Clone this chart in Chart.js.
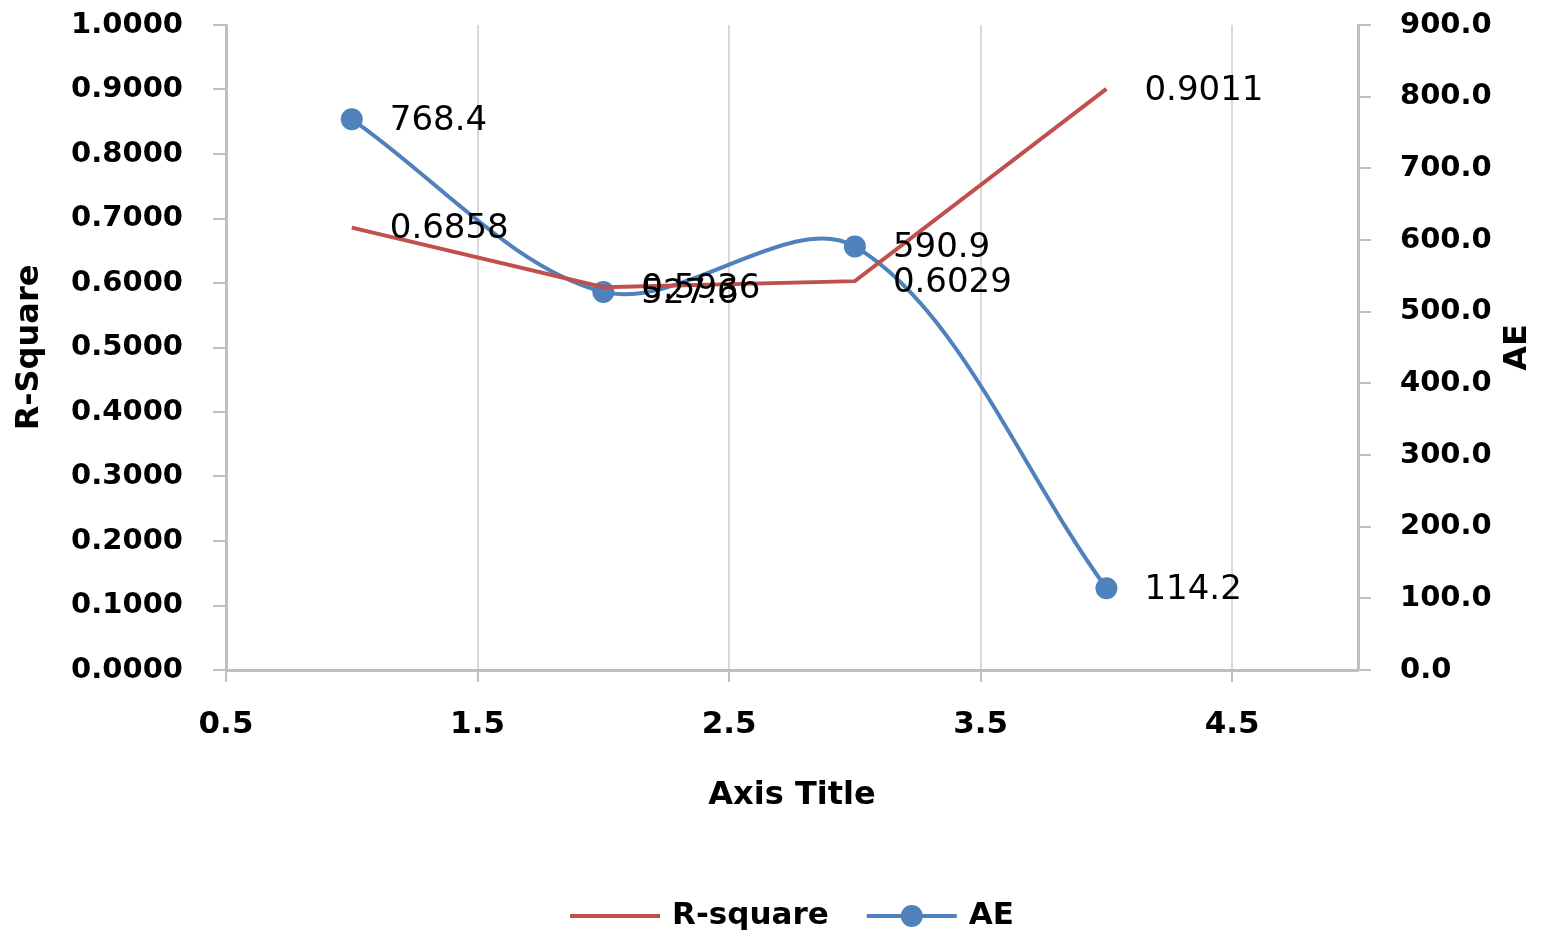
<!DOCTYPE html>
<html>
<head>
<meta charset="utf-8">
<script src="https://cdn.jsdelivr.net/npm/chart.js@4.4.1/dist/chart.umd.min.js"></script>
<style>
  html, body { margin: 0; padding: 0; background: #fff; }
  canvas { display: block; }
</style>
</head>
<body>
<canvas id="chart" width="1559" height="943"></canvas>
<script>
// values
const xValues = [1, 2, 3, 4];
const rSquare = [0.6858, 0.5936, 0.6029, 0.9011];
const aeValues = [768.4, 527.6, 590.9, 114.2];
const xTicks = [0.5, 1.5, 2.5, 3.5, 4.5];
const rLabel = 'R-square';
const aeLabel = 'AE';

const RED = '#C0504D';
const BLUE = '#4F81BD';
const AXIS = '#bfbfbf';
const FONT = '"DejaVu Sans", Verdana, sans-serif';

const toPoints = (ys) => xValues.map((x, i) => ({ x: x, y: ys[i] }));

// value labels right of every point
const valueLabels = {
  id: 'valueLabels',
  afterDatasetsDraw(chart) {
    const ctx = chart.ctx;
    ctx.save();
    ctx.font = 'normal 34px ' + FONT;
    ctx.fillStyle = '#000';
    ctx.textAlign = 'left';
    ctx.textBaseline = 'middle';
    chart.data.datasets.forEach((ds, di) => {
      const meta = chart.getDatasetMeta(di);
      meta.data.forEach((pt, i) => {
        const v = ds.data[i].y;
        const txt = di === 0 ? v.toFixed(4) : v.toFixed(1);
        ctx.fillText(txt, pt.x + 38, pt.y + 2);
      });
    });
    ctx.restore();
  }
};

// right axis title (reads bottom to top) and legend
const extras = {
  id: 'extras',
  afterDraw(chart) {
    const ctx = chart.ctx;
    const area = chart.chartArea;
    ctx.save();
    ctx.fillStyle = '#000';
    ctx.font = 'bold 32px ' + FONT;
    ctx.textAlign = 'center';
    ctx.textBaseline = 'middle';
    ctx.translate(chart.width - 41, (area.top + area.bottom) / 2);
    ctx.rotate(-Math.PI / 2);
    ctx.fillText(aeLabel, 0, 0);
    ctx.restore();

    // legend
    ctx.save();
    ctx.font = 'bold 31px ' + FONT;
    ctx.textBaseline = 'middle';
    ctx.textAlign = 'left';
    const lineLen = 90, gapText = 12, gapItem = 38;
    const w1 = ctx.measureText(rLabel).width;
    const w2 = ctx.measureText(aeLabel).width;
    const total = lineLen + gapText + w1 + gapItem + lineLen + gapText + w2;
    let x = (area.left + area.right) / 2 - total / 2;
    const y = 916;
    ctx.lineWidth = 4;
    ctx.strokeStyle = RED;
    ctx.beginPath(); ctx.moveTo(x, y); ctx.lineTo(x + lineLen, y); ctx.stroke();
    ctx.fillStyle = '#000';
    ctx.fillText(rLabel, x + lineLen + gapText, y);
    x += lineLen + gapText + w1 + gapItem;
    ctx.strokeStyle = BLUE;
    ctx.beginPath(); ctx.moveTo(x, y); ctx.lineTo(x + lineLen, y); ctx.stroke();
    ctx.fillStyle = BLUE;
    ctx.beginPath(); ctx.arc(x + lineLen / 2, y, 11, 0, Math.PI * 2); ctx.fill();
    ctx.fillStyle = '#000';
    ctx.fillText(aeLabel, x + lineLen + gapText, y);
    ctx.restore();
  }
};

// fixed widths, no extra label padding above/below the vertical axes
const fitY = (w) => (scale) => {
  scale.width = w;
  scale.paddingTop = 0;
  scale.paddingBottom = 0;
};

new Chart(document.getElementById('chart').getContext('2d'), {
  type: 'line',
  data: {
    datasets: [
      {
        label: rLabel,
        data: toPoints(rSquare),
        borderColor: RED,
        backgroundColor: RED,
        borderWidth: 4,
        pointRadius: 0,
        tension: 0,
        yAxisID: 'y'
      },
      {
        label: aeLabel,
        data: toPoints(aeValues),
        borderColor: BLUE,
        backgroundColor: BLUE,
        borderWidth: 4,
        pointRadius: 11,
        pointBorderWidth: 0,
        tension: 0.33,
        yAxisID: 'y1'
      }
    ]
  },
  options: {
    responsive: false,
    animation: false,
    devicePixelRatio: 1,
    layout: { padding: { top: 25, left: 0, right: 0, bottom: 0 } },
    plugins: {
      legend: { display: false },
      tooltip: { enabled: false }
    },
    scales: {
      x: {
        type: 'linear',
        position: 'bottom',
        min: 0.5,
        max: 5,
        afterBuildTicks: (scale) => { scale.ticks = xTicks.map(v => ({ value: v })); },
        afterFit: (scale) => { scale.height = 273; scale.paddingLeft = 0; scale.paddingRight = 0; },
        ticks: {
          callback: (v) => Number(v).toFixed(1),
          font: { family: FONT, size: 31, weight: 'bold' },
          color: '#000',
          padding: 24,
          maxRotation: 0
        },
        grid: { color: '#d9d9d9', lineWidth: 2, tickLength: 12, tickColor: AXIS },
        border: { color: AXIS, width: 3 },
        title: {
          display: true,
          text: 'Axis Title',
          font: { family: FONT, size: 32, weight: 'bold' },
          color: '#000',
          padding: { top: 0, bottom: 128 }
        }
      },
      y: {
        type: 'linear',
        position: 'left',
        min: 0,
        max: 1,
        afterFit: fitY(226),
        ticks: {
          stepSize: 0.1,
          callback: (v) => Number(v).toFixed(4),
          font: { family: FONT, size: 29, weight: 'bold' },
          color: '#000',
          padding: 30
        },
        grid: { drawOnChartArea: false, color: AXIS, lineWidth: 2, tickLength: 13 },
        border: { color: AXIS, width: 3 },
        title: {
          display: true,
          text: 'R-Square',
          font: { family: FONT, size: 32, weight: 'bold' },
          color: '#000',
          padding: { top: 10, bottom: 0 }
        }
      },
      y1: {
        type: 'linear',
        position: 'right',
        min: 0,
        max: 900,
        afterFit: fitY(201),
        ticks: {
          stepSize: 100,
          callback: (v) => Number(v).toFixed(1),
          font: { family: FONT, size: 29, weight: 'bold' },
          color: '#000',
          padding: 29
        },
        grid: { drawOnChartArea: false, color: AXIS, lineWidth: 2, tickLength: 13 },
        border: { color: AXIS, width: 3 }
      }
    }
  },
  plugins: [valueLabels, extras]
});
</script>
</body>
</html>
